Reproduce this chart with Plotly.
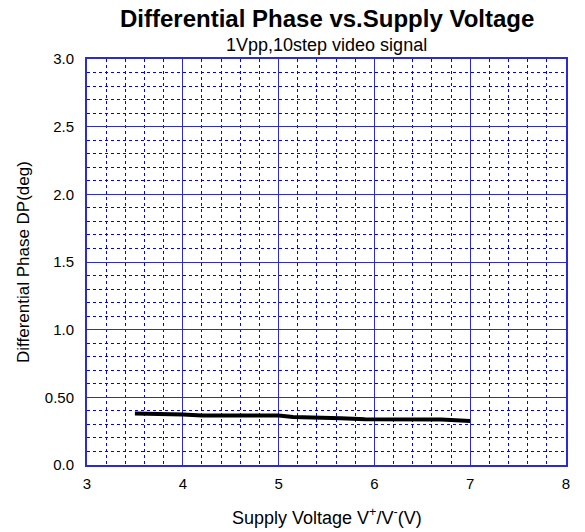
import plotly.graph_objects as go

voltage = [3.5, 3.9, 4.0, 4.2, 5.0, 5.15, 5.6, 5.65, 5.9, 6.7, 7.0]
phase = [0.380, 0.379, 0.373, 0.366, 0.365, 0.355, 0.350, 0.345, 0.338, 0.337, 0.325]

y_ticks = [0.0, 0.5, 1.0, 1.5, 2.0, 2.5, 3.0]
y_labels = ["0.0", "0.50", "1.0", "1.5", "2.0", "2.5", "3.0"]
x_ticks = [3, 4, 5, 6, 7, 8]

fig = go.Figure()
fig.add_trace(go.Scatter(x=voltage, y=phase, mode="lines",
                         line=dict(color="black", width=4), showlegend=False))

font = "Liberation Sans, Arial, sans-serif"
grid_major = "#2a2ad8"
grid_minor = "#0000ff"

fig.update_layout(
    width=585, height=532,
    margin=dict(l=87, r=19, t=59, b=67),
    paper_bgcolor="white", plot_bgcolor="white",
    font=dict(family=font, color="black", size=15),
    annotations=[
        dict(text="<b>Differential Phase vs.Supply Voltage</b>", x=0.5, y=1, xref="paper", yref="paper",
             yanchor="middle", yshift=41, showarrow=False, font=dict(size=24, family=font, color="black")),
        dict(text="1Vpp,10step video signal", x=0.5, y=1, xref="paper", yref="paper",
             yanchor="middle", yshift=14, showarrow=False, font=dict(size=18, family=font, color="black")),
        dict(text="Supply Voltage V<sup>+</sup>/V<sup>-</sup>(V)", x=0.5, y=0, xref="paper", yref="paper",
             yanchor="middle", yshift=-51, showarrow=False, font=dict(size=18, family=font, color="black")),
        dict(text="Differential Phase DP(deg)", x=0, y=0.5, xref="paper", yref="paper",
             xanchor="center", xshift=-64, textangle=-90, showarrow=False,
             font=dict(size=17, family=font, color="black")),
    ],
)
fig.update_xaxes(
    range=[3, 8], tickvals=x_ticks, ticktext=[str(v) for v in x_ticks],
    showgrid=True, gridcolor=grid_major, gridwidth=1,
    minor=dict(dtick=0.2, tick0=3, showgrid=True, gridcolor=grid_minor, griddash="3px,3px", gridwidth=1),
    showline=True, linecolor=grid_major, linewidth=2, mirror=True,
    zeroline=False, ticks="", tickfont=dict(size=15), ticklabelstandoff=4,
)
fig.update_yaxes(
    range=[0, 3], tickvals=y_ticks, ticktext=y_labels,
    showgrid=True, gridcolor=grid_major, gridwidth=1,
    minor=dict(dtick=0.1, tick0=0, showgrid=True, gridcolor=grid_minor, griddash="3px,3px", gridwidth=1),
    showline=True, linecolor=grid_major, linewidth=2, mirror=True,
    zeroline=False, ticks="", tickfont=dict(size=15), ticklabelstandoff=8,
)

fig.write_html("out.html", config={"displayModeBar": False},
               post_script="document.body.style.margin='0px';")
